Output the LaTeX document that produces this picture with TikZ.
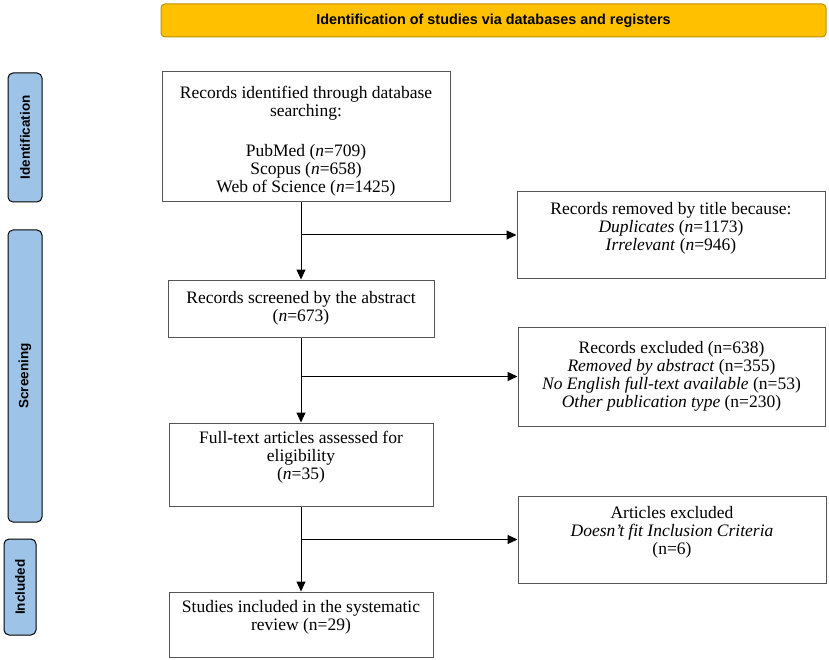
\documentclass[tikz,border=0pt]{standalone}
\usepackage{fontspec}
\setmainfont{Liberation Serif}
\setsansfont{Liberation Sans}
\usetikzlibrary{arrows.meta}

\definecolor{bannerfill}{HTML}{FFC000}
\definecolor{bannerline}{HTML}{BF9000}
\definecolor{phasefill}{HTML}{9DC3E6}
\definecolor{boxline}{HTML}{555555}

\tikzset{
  flowbox/.style = {draw = boxline, line width = 1pt, align = center, inner sep = 0pt,
    font = \fontsize{17.5}{18}\selectfont},
  phasebar/.style = {draw = black, fill = phasefill, line width = 1pt, rounded corners = 5pt,
    rotate = 90, inner sep = 0pt, font = \sffamily\bfseries\fontsize{13.5}{16}\selectfont},
  banner/.style = {draw = bannerline, fill = bannerfill, line width = 1pt, rounded corners = 4pt,
    inner sep = 0pt, font = \sffamily\bfseries\fontsize{14.4}{16}\selectfont}
}

\begin{document}
\begin{tikzpicture}[x = 1pt, y = -1pt, > = {Triangle[length = 10pt, width = 9pt]}, line width = 1pt]
\useasboundingbox (0,0) rectangle (829,660);
	% header and phases
	\node [banner, minimum width = 665, minimum height = 33] (head) at (493.5,20.5) {Identification of studies via databases and registers};
	\node [phasebar, minimum width = 129, minimum height = 34] (ident) at (25,137.5) {Identification};
	\node [phasebar, minimum width = 292, minimum height = 34] (screen) at (25,376) {Screening};
	\node [phasebar, minimum width = 96, minimum height = 32] (incl) at (20,587) {Included};
	% main column
	\node [flowbox, minimum width = 288, minimum height = 130] (found) at (306,137) {\mbox{}\\[2pt] Records identified through database\\ searching:\\[4pt] \mbox{}\\ PubMed (\textit{n}=709)\\ Scopus (\textit{n}=658)\\ Web of Science (\textit{n}=1425)};
	\node [flowbox, minimum width = 266, minimum height = 57] (screened) at (301,308.5) {Records screened by the abstract\\ (\textit{n}=673)};
	\node [flowbox, minimum width = 264, minimum height = 83] (fulltext) at (301,464.5) {Full-text articles assessed for\\ eligibility\\ (\textit{n}=35)\\ \mbox{}};
	\node [flowbox, minimum width = 264, minimum height = 65] (included) at (301,624.5) {Studies included in the systematic\\ review (n=29)\\ \mbox{}};
	% excluded column
	\node [flowbox, minimum width = 308, minimum height = 86] (bytitle) at (671,235) {Records removed by title because:\\ \textit{Duplicates} (\textit{n}=1173)\\ \textit{Irrelevant} (\textit{n}=946)\\ \mbox{}};
	\node [flowbox, minimum width = 307, minimum height = 99] (byabstract) at (671.5,376.5) {Records excluded (n=638)\\ \textit{Removed by abstract} (n=355)\\ \textit{No English full-text available} (n=53)\\ \textit{Other publication type} (n=230)};
	\node [flowbox, minimum width = 308, minimum height = 87] (byfull) at (672,539.5) {Articles excluded\\ \textit{Doesn’t fit Inclusion Criteria}\\ (n=6)\\ \mbox{}};
	% arrows
	\coordinate (top1) at (found.south -| screened.north);
	\coordinate (split1) at (screened.north |- bytitle.west);
	\coordinate (split2) at (fulltext.north |- byabstract.west);
	\coordinate (split3) at (included.north |- byfull.west);
	\draw [->] (top1) -- (screened.north);
	\draw [->] (screened.south) -- (fulltext.north);
	\draw [->] (fulltext.south) -- (included.north);
	\draw [->] (split1) -- (bytitle.west);
	\draw [->] (split2) -- (byabstract.west);
	\draw [->] (split3) -- (byfull.west);
\end{tikzpicture}
\end{document}
